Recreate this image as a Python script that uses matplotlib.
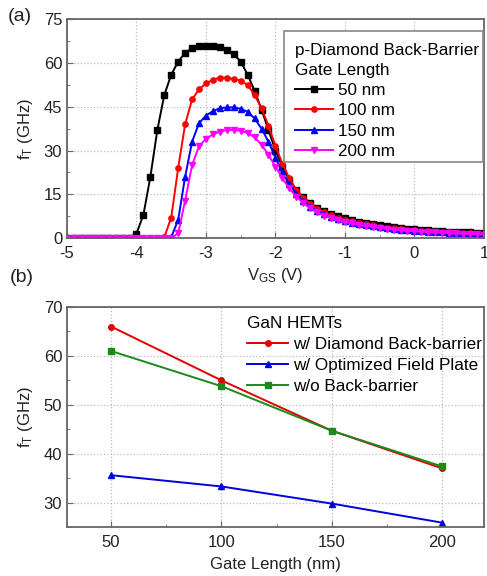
import numpy as np
import matplotlib
matplotlib.use("Agg")
import matplotlib.pyplot as plt
from matplotlib.ticker import MultipleLocator
from matplotlib.patches import Rectangle

plt.rcParams['font.family'] = ['Liberation Sans', 'DejaVu Sans']
plt.rcParams['mathtext.default'] = 'regular'
plt.rcParams['axes.unicode_minus'] = False

# === Panel (a) data: fT vs VGS, 0.1 V steps from -5 to 1 === #
vgs = np.round(np.arange(-5.0, 1.01, 0.1), 1)

ft_50nm = [0]*10 + [1.5, 8, 21, 37, 49, 56, 60.5, 63.5, 65, 65.8,
                    66, 66, 65.5, 64.5, 63, 60.5, 56, 50.5, 44, 37,
                    30, 24.5, 20, 16.5, 14, 12, 10.4, 9.2, 8.2, 7.4,
                    6.7, 6.1, 5.6, 5.1, 4.7, 4.3, 4.0, 3.7, 3.4, 3.2,
                    3.0, 2.8, 2.6, 2.5, 2.3, 2.2, 2.1, 2.0, 1.9, 1.8, 1.7]
ft_100nm = [0]*14 + [0.3, 7, 24, 39, 47.5, 51, 53,
                     54.3, 55, 55, 54.5, 54, 52.5, 49, 44.5, 38.5,
                     31.5, 25.5, 20.5, 16.5, 13.8, 11.7, 10.0, 8.8, 7.8, 7.0,
                     6.3, 5.7, 5.2, 4.7, 4.3, 3.9, 3.6, 3.3, 3.1, 2.9,
                     2.7, 2.5, 2.3, 2.2, 2.0, 1.9, 1.8, 1.7, 1.6, 1.5, 1.4]
ft_150nm = [0]*15 + [0.3, 6.2, 21, 33, 39.4, 42,
                     43.5, 44.5, 44.8, 44.8, 44.3, 43.3, 41, 37.5, 33,
                     27.5, 22.5, 18.5, 15.2, 12.7, 10.8, 9.3, 8.2, 7.3, 6.5,
                     5.8, 5.3, 4.8, 4.4, 4.0, 3.7, 3.4, 3.1, 2.9, 2.7,
                     2.5, 2.3, 2.2, 2.0, 1.9, 1.8, 1.7, 1.6, 1.5, 1.4, 1.3]
ft_200nm = [0]*16 + [1.6, 12.8, 25, 31.5, 34,
                     35.5, 36.5, 37, 37, 36.8, 36, 34.5, 32, 28.5,
                     24.5, 20.5, 17, 14.2, 12, 10.2, 8.8, 7.7, 6.8, 6.1,
                     5.5, 5.0, 4.5, 4.1, 3.8, 3.5, 3.2, 2.9, 2.7, 2.5,
                     2.3, 2.2, 2.0, 1.9, 1.8, 1.7, 1.6, 1.5, 1.4, 1.3, 1.2]

# === Panel (b) data: fT vs gate length === #
gate_len = [50, 100, 150, 200]
ft_diamond = [66, 55, 44.7, 37]
ft_fieldplate = [35.6, 33.3, 29.8, 25.9]
ft_nobarrier = [61, 53.8, 44.7, 37.4]

TXT = '#222222'
SPINE = '#666666'

def style_axes(ax):
    for s in ax.spines.values():
        s.set_color(SPINE)
        s.set_linewidth(1.3)
    ax.tick_params(which='both', direction='in', colors=SPINE, labelcolor=TXT,
                   labelsize=12)
    ax.tick_params(axis='x', which='major', pad=6)
    ax.tick_params(which='major', length=4)
    ax.tick_params(which='minor', length=2.5)
    ax.grid(True, which='major', linestyle=':', color='#bbbbbb', linewidth=0.9)

fig = plt.figure(figsize=(4.87, 5.76), dpi=100)

# --- (a) --- #
ax1 = fig.add_axes([0.1376, 0.5868, 0.856, 0.3797])
ms = 3.8
ax1.plot(vgs, ft_50nm, '-s', color='black', lw=1.4, ms=ms, label='50 nm')
ax1.plot(vgs, ft_100nm, '-o', color='#ff0000', lw=1.4, ms=ms, label='100 nm')
ax1.plot(vgs, ft_150nm, '-^', color='#0000ff', lw=1.4, ms=ms, label='150 nm')
ax1.plot(vgs, ft_200nm, '-v', color='#ff00ff', lw=1.4, ms=ms, label='200 nm')
ax1.set_xlim(-5, 1)
ax1.set_ylim(0, 75)
ax1.xaxis.set_major_locator(MultipleLocator(1))
ax1.xaxis.set_minor_locator(MultipleLocator(0.5))
ax1.yaxis.set_major_locator(MultipleLocator(15))
ax1.yaxis.set_minor_locator(MultipleLocator(7.5))
style_axes(ax1)
ax1.set_xlabel('V$_{GS}$ (V)', fontsize=12, color=TXT, labelpad=3)
ax1.set_ylabel('f$_T$ (GHz)', fontsize=12, color=TXT, labelpad=6)

# legend box drawn by hand (tighter on the right than matplotlib's frame)
box = Rectangle((0.52, 0.3475), 0.478, 0.599, transform=ax1.transAxes,
                facecolor='white', edgecolor='#888888', lw=1.2, zorder=4)
ax1.add_patch(box)
leg1 = ax1.legend(title='p-Diamond Back-Barrier\nGate Length', loc='upper left',
                  bbox_to_anchor=(0.547, 0.89), fontsize=12.3, title_fontsize=12.3,
                  frameon=False, handlelength=2.2, handletextpad=0.3,
                  labelspacing=0.3, borderpad=0.0, borderaxespad=0.0,
                  alignment='left')
leg1.get_title().set_linespacing(1.4)
leg1.set_zorder(5)
fig.text(0.015, 0.972, '(a)', fontsize=14, color=TXT, va='center')

# --- (b) --- #
ax2 = fig.add_axes([0.1376, 0.085, 0.856, 0.382])
ax2.plot(gate_len, ft_diamond, '-o', color='#e00000', lw=1.4, ms=4,
         label='w/ Diamond Back-barrier')
ax2.plot(gate_len, ft_fieldplate, '-^', color='#0000e0', lw=1.4, ms=4,
         label='w/ Optimized Field Plate')
ax2.plot(gate_len, ft_nobarrier, '-s', color='#1a8a1a', lw=1.4, ms=4,
         label='w/o Back-barrier')
ax2.set_xlim(30, 219)
ax2.set_ylim(25, 70)
ax2.xaxis.set_major_locator(MultipleLocator(50))
ax2.xaxis.set_minor_locator(MultipleLocator(25))
ax2.yaxis.set_major_locator(MultipleLocator(10))
ax2.yaxis.set_minor_locator(MultipleLocator(5))
style_axes(ax2)
ax2.set_xlabel('Gate Length (nm)', fontsize=12, color=TXT, labelpad=5)
ax2.set_ylabel('f$_T$ (GHz)', fontsize=12, color=TXT, labelpad=6)
ax2.legend(title='GaN HEMTs', loc='upper right', bbox_to_anchor=(1.0, 0.968),
           fontsize=12.3, title_fontsize=12.3, frameon=False,
           handlelength=2.4, handletextpad=0.3, labelspacing=0.35,
           borderpad=0.1, borderaxespad=0.0, alignment='left')
fig.text(0.02, 0.519, '(b)', fontsize=14, color=TXT, va='center')

fig.savefig('out.png', dpi=100)
